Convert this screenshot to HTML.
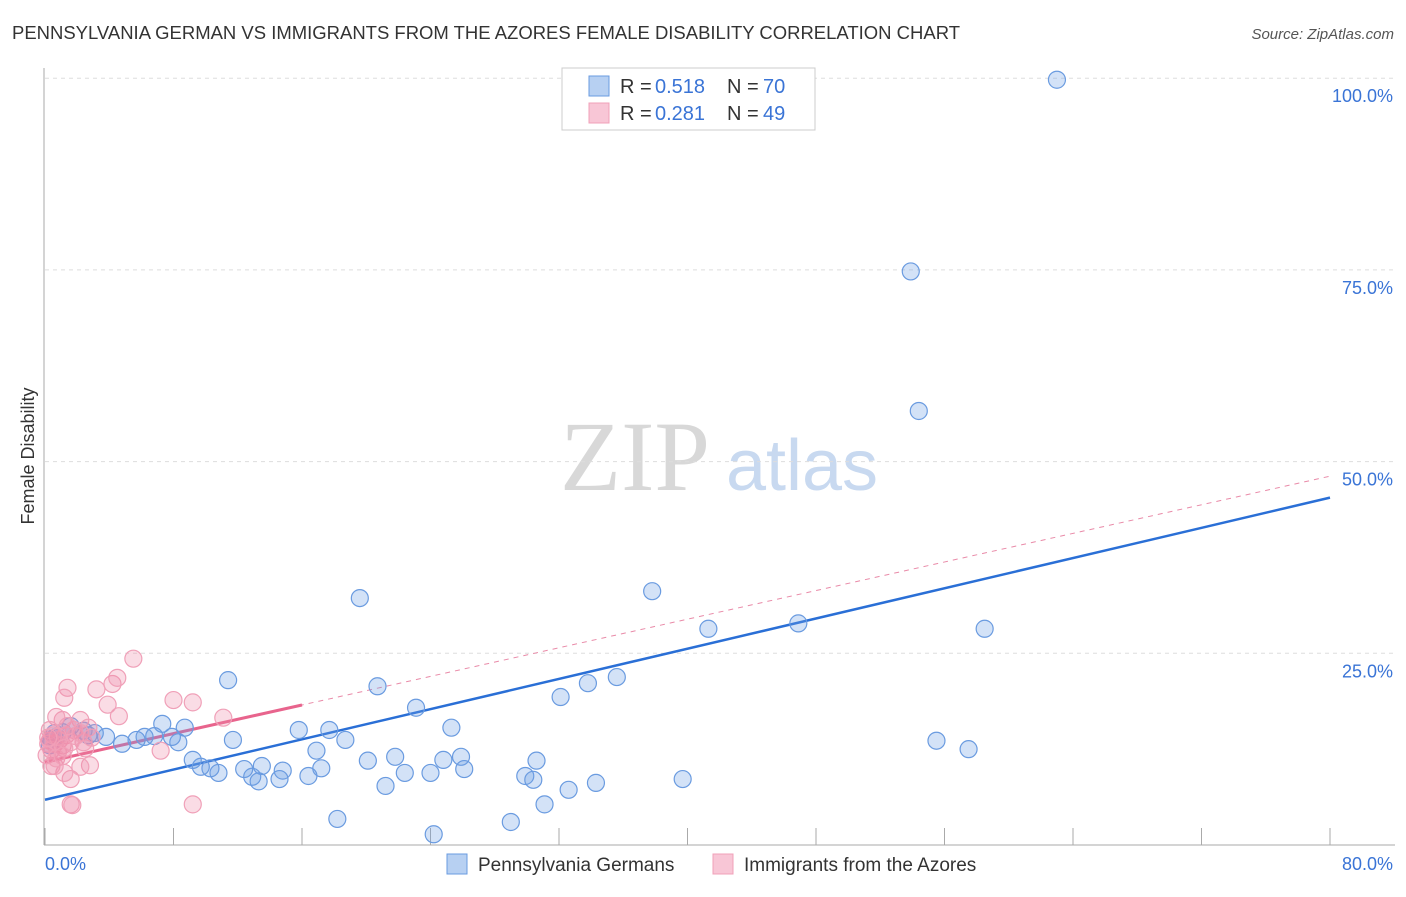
<!DOCTYPE html>
<html><head><meta charset="utf-8"><style>
body{margin:0;background:#fff;font-family:"Liberation Sans",sans-serif;}
svg text{font-family:"Liberation Sans",sans-serif;}
</style></head><body>
<svg id="chart" width="1406" height="892">
<text x="12" y="39" font-size="18" fill="#333" textLength="948" lengthAdjust="spacingAndGlyphs">PENNSYLVANIA GERMAN VS IMMIGRANTS FROM THE AZORES FEMALE DISABILITY CORRELATION CHART</text>
<text x="1394" y="39" font-size="15" fill="#555" font-style="italic" text-anchor="end">Source: ZipAtlas.com</text>
<text transform="translate(34,456) rotate(-90)" font-size="18" fill="#333" text-anchor="middle">Female Disability</text>
<g>
<text x="635" y="490" font-size="100" fill="#d8d8d8" font-family="Liberation Serif,serif" text-anchor="middle" style="font-family:'Liberation Serif',serif">ZIP</text>
<text x="802" y="490" font-size="72" fill="#c8d9f0" text-anchor="middle">atlas</text>
</g>
<g id="grid"></g><g id="axes"></g><g id="lines"></g><g id="pts"></g>
<g>
<rect x="562" y="68" width="253" height="62" fill="#fff" stroke="#ccc"/>
<rect x="589" y="76" width="20" height="20" fill="#b7d0f2" stroke="#6a9be0"/>
<rect x="589" y="103" width="20" height="20" fill="#f8c6d6" stroke="#f0a0b8"/>
<text x="620" y="93" font-size="20" fill="#333">R =</text><text x="655" y="93" font-size="20" fill="#3a74d6">0.518</text>
<text x="727" y="93" font-size="20" fill="#333">N =</text><text x="763" y="93" font-size="20" fill="#3a74d6">70</text>
<text x="620" y="120" font-size="20" fill="#333">R =</text><text x="655" y="120" font-size="20" fill="#3a74d6">0.281</text>
<text x="727" y="120" font-size="20" fill="#333">N =</text><text x="763" y="120" font-size="20" fill="#3a74d6">49</text>
</g>
<g>
<rect x="447" y="854" width="20" height="20" fill="#b7d0f2" stroke="#6a9be0"/>
<text x="478" y="871" font-size="19" fill="#333">Pennsylvania Germans</text>
<rect x="713" y="854" width="20" height="20" fill="#f8c6d6" stroke="#f0a0b8"/>
<text x="744" y="871" font-size="19" fill="#333">Immigrants from the Azores</text>
</g>
</svg>
<script>
const yTicks=[25,50,75,100];
const yTickLabels=["25.0%","50.0%","75.0%","100.0%"];
const xTicks=[0,8,16,24,32,40,48,56,64,72,80];
const blueX=[63.0,53.9,54.4,19.6,37.8,41.3,46.9,58.5,11.4,20.7,32.1,33.8,35.6,23.1,55.5,57.5,39.7,15.8,17.7,18.7,16.9,17.2,16.4,13.5,14.8,14.6,12.9,13.3,12.4,10.8,10.3,9.7,9.2,11.7,8.7,7.3,8.3,7.9,6.8,6.2,5.7,4.8,3.8,3.1,2.4,1.6,1.1,0.6,0.4,0.3,25.3,25.9,24.8,21.8,20.1,21.2,22.4,24.0,26.1,30.6,29.9,30.4,32.6,31.1,34.3,18.2,24.2,29.0,0.6,2.7];
const blueY=[99.8,74.8,56.6,32.2,33.1,28.2,28.9,28.2,21.5,20.7,19.3,21.1,21.9,17.9,13.6,12.5,8.6,15.0,15.0,13.7,12.3,10.0,9.0,10.3,9.7,8.6,8.9,8.3,9.9,9.4,10.0,10.2,11.1,13.7,15.3,15.8,13.4,14.1,14.2,14.1,13.7,13.2,14.1,14.6,14.9,15.5,14.7,14.6,13.7,13.0,15.3,11.5,11.1,11.5,11.0,7.7,9.4,9.4,9.9,11.0,9.0,8.5,7.2,5.3,8.1,3.4,1.4,3.0,14.0,14.3];
const pinkX=[5.5,1.4,3.2,1.2,4.2,4.5,3.9,4.6,8.0,9.2,11.1,7.2,9.2,1.6,1.7,1.6,1.2,0.4,0.6,2.8,2.2,2.5,2.4,1.1,2.2,0.7,2.7,1.8,1.3,0.9,0.6,0.3,0.2,0.4,0.8,1.1,1.6,1.9,1.4,0.3,0.5,0.8,1.2,0.1,0.2,2.2,2.9,0.7,1.1];
const pinkY=[24.3,20.5,20.3,19.2,21.0,21.8,18.3,16.8,18.9,18.6,16.6,12.3,5.3,5.3,5.2,8.6,9.4,10.3,10.3,10.4,10.2,12.6,13.4,16.3,16.3,16.7,15.3,15.0,14.3,13.7,13.2,13.6,13.2,12.4,12.1,13.0,13.4,14.2,15.5,15.0,14.3,14.1,12.6,11.7,14.0,14.6,14.0,11.3,11.6];
const blueTrend=[5.9,45.3];
const pinkTrend=[10.8,48.1];
const pinkSolidEnd=16;
const NS="http://www.w3.org/2000/svg";
const X=v=>45+v/80*1285, Y=v=>845-v*7.668;
function mk(p,tag,a){const e=document.createElementNS(NS,tag);for(const k in a)e.setAttribute(k,a[k]);document.getElementById(p).appendChild(e);return e;}
yTicks.forEach((t,i)=>{
 const g=mk('grid','line',{x1:45,x2:1395,y1:Y(t),y2:Y(t),stroke:'#ddd','stroke-dasharray':'4,4'});
 
 
 const l=mk('grid','text',{x:1393,y:Y(t)+24,'font-size':18,fill:'#3a74d6','text-anchor':'end'});l.textContent=yTickLabels[i];
 
 
});
let a=mk('axes','line',{x1:44,x2:44,y1:68,y2:845,stroke:'#aaa'});


a=mk('axes','line',{x1:44,x2:1395,y1:845,y2:845,stroke:'#aaa'});


xTicks.forEach(t=>{const k=mk('axes','line',{x1:X(t),x2:X(t),y1:828,y2:845,stroke:'#aaa'});
 
 });
let t=mk('axes','text',{x:45,y:870,'font-size':18,fill:'#3a74d6'});t.textContent='0.0%';


t=mk('axes','text',{x:1393,y:870,'font-size':18,fill:'#3a74d6','text-anchor':'end'});t.textContent='80.0%';


const pt=(x)=>pinkTrend[0]+(pinkTrend[1]-pinkTrend[0])*x/80;
let ln=mk('lines','line',{x1:X(0),y1:Y(pt(0)),x2:X(80),y2:Y(pt(80)),stroke:'#e98aa8','stroke-width':1,'stroke-dasharray':'5,5'});


ln=mk('lines','line',{x1:X(0),y1:Y(pt(0)),x2:X(pinkSolidEnd),y2:Y(pt(pinkSolidEnd)),stroke:'#e8648d','stroke-width':3});


ln=mk('lines','line',{x1:X(0),y1:Y(blueTrend[0]),x2:X(80),y2:Y(blueTrend[1]),stroke:'#2a6fd6','stroke-width':2.5});


blueX.forEach((x,i)=>{const c=mk('pts','circle',{cx:X(x),cy:Y(blueY[i]),r:8.5,fill:'rgba(110,160,230,0.3)',stroke:'#6a9be0','stroke-width':1.2});
 
 });
pinkX.forEach((x,i)=>{const c=mk('pts','circle',{cx:X(x),cy:Y(pinkY[i]),r:8.5,fill:'rgba(240,140,170,0.3)',stroke:'#f0a0b8','stroke-width':1.2});
 
 });
</script>
</body></html>
